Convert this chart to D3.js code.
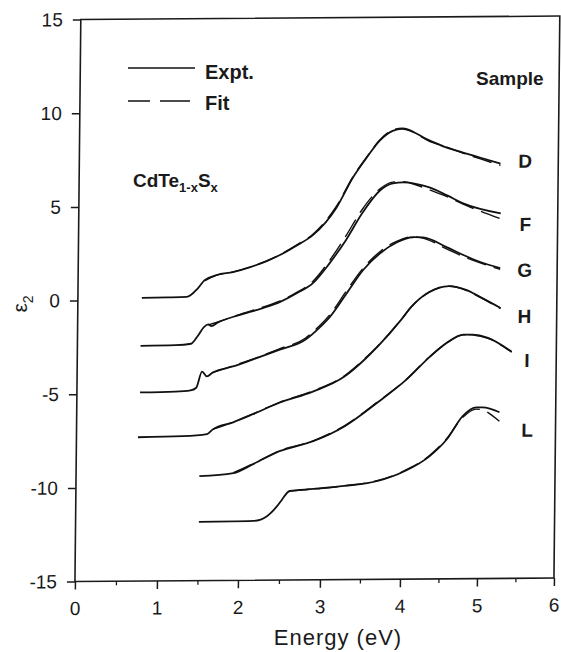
<!DOCTYPE html>
<html>
<head>
<meta charset="utf-8">
<script src="https://cdn.jsdelivr.net/npm/d3@7"></script>
<style>
  html, body { margin: 0; padding: 0; background: #fff; }
  svg { display: block; }
  text { font-family: "Liberation Sans", Arial, Helvetica, sans-serif; fill: #1a1a1a; }
</style>
</head>
<body>
<svg id="chart" width="561" height="652"></svg>
<script>
// ---- data (Energy in eV, epsilon_2 offset curves) ----
const samples = ["D", "F", "G", "H", "I", "L"];

const exptD = [[0.78,0.12],[1.10,0.13],[1.33,0.15],[1.47,0.62],[1.55,1.04],[1.70,1.31],[1.90,1.46],[2.11,1.72],[2.31,2.03],[2.47,2.35],[2.68,2.87],[2.87,3.40],[3.16,4.87],[3.36,6.46],[3.53,7.52],[3.69,8.42],[3.85,8.94],[3.97,9.04],[4.33,8.40],[4.55,8.02],[4.76,7.75],[4.98,7.48],[5.25,7.15]];
const fitD   = [[1.55,1.00],[1.70,1.30],[1.90,1.47],[2.11,1.72],[2.31,2.05],[2.47,2.37],[2.68,2.90],[2.87,3.45],[3.16,4.95],[3.36,6.50],[3.53,7.55],[3.69,8.45],[3.85,8.98],[3.97,9.08],[4.33,8.35],[4.55,8.05],[4.76,7.72],[4.98,7.42],[5.25,7.05]];

const exptF = [[0.77,-2.44],[1.20,-2.42],[1.39,-2.35],[1.47,-1.95],[1.55,-1.45],[1.60,-1.32],[1.64,-1.42],[1.72,-1.22],[1.99,-0.83],[2.25,-0.50],[2.48,-0.15],[2.68,0.30],[2.88,0.85],[3.08,1.90],[3.28,3.12],[3.48,4.55],[3.70,5.76],[3.86,6.13],[3.99,6.18],[4.15,6.10],[4.33,5.90],[4.56,5.47],[4.77,5.04],[5.26,4.49]];
const fitF   = [[1.60,-1.35],[1.72,-1.20],[1.99,-0.80],[2.25,-0.45],[2.48,-0.10],[2.68,0.35],[2.88,0.95],[3.08,2.05],[3.28,3.35],[3.48,4.75],[3.70,5.85],[3.86,6.20],[3.99,6.22],[4.15,6.05],[4.33,5.78],[4.56,5.40],[4.77,5.00],[5.26,4.20]];

const exptG = [[0.77,-4.93],[1.20,-4.90],[1.39,-4.84],[1.46,-4.70],[1.53,-3.84],[1.59,-4.10],[1.66,-3.90],[1.91,-3.58],[2.15,-3.22],[2.48,-2.70],[2.79,-2.18],[2.96,-1.55],[3.09,-0.97],[3.30,0.30],[3.50,1.52],[3.71,2.41],[3.92,2.99],[4.12,3.25],[4.25,3.24],[4.56,2.71],[4.78,2.28],[5.00,1.90],[5.26,1.57]];
const fitG   = [[1.66,-3.90],[1.91,-3.55],[2.15,-3.20],[2.48,-2.65],[2.79,-2.10],[2.96,-1.45],[3.09,-0.85],[3.30,0.45],[3.50,1.62],[3.71,2.50],[3.92,3.05],[4.12,3.28],[4.25,3.20],[4.56,2.62],[4.78,2.20],[5.00,1.85],[5.26,1.50]];

const exptH = [[0.75,-7.32],[1.30,-7.28],[1.60,-7.18],[1.67,-6.93],[1.92,-6.56],[2.16,-6.14],[2.49,-5.52],[2.89,-4.95],[3.28,-4.16],[3.53,-3.26],[3.69,-2.58],[3.98,-1.16],[4.11,-0.47],[4.34,0.32],[4.60,0.63],[4.82,0.42],[5.00,0.04],[5.27,-0.56]];
const fitH   = [[1.67,-6.93],[1.92,-6.55],[2.16,-6.12],[2.49,-5.50],[2.89,-4.92],[3.28,-4.12],[3.53,-3.22],[3.69,-2.55],[3.98,-1.15],[4.11,-0.47],[4.34,0.30],[4.60,0.62],[4.82,0.40],[5.00,0.02],[5.27,-0.60]];

const exptI = [[1.51,-9.42],[1.93,-9.27],[2.17,-8.80],[2.49,-8.12],[2.90,-7.60],[3.29,-6.81],[3.70,-5.55],[4.06,-4.34],[4.36,-3.13],[4.58,-2.39],[4.79,-1.97],[4.91,-1.98],[5.10,-2.14],[5.42,-2.90]];
const fitI   = [[1.93,-9.25],[2.17,-8.78],[2.49,-8.10],[2.90,-7.58],[3.29,-6.78],[3.70,-5.52],[4.06,-4.32],[4.36,-3.12],[4.58,-2.40],[4.79,-1.98],[4.91,-1.99],[5.10,-2.16],[5.42,-2.92]];

const exptL = [[1.51,-11.86],[2.18,-11.83],[2.35,-11.57],[2.47,-11.04],[2.52,-10.75],[2.62,-10.25],[2.91,-10.15],[3.29,-10.00],[3.71,-9.75],[4.05,-9.23],[4.37,-8.44],[4.59,-7.55],[4.79,-6.33],[4.97,-5.86],[5.05,-5.86],[5.27,-6.13]];
const fitL   = [[2.62,-10.25],[2.91,-10.15],[3.29,-10.00],[3.71,-9.72],[4.05,-9.20],[4.37,-8.40],[4.59,-7.50],[4.79,-6.40],[4.97,-5.95],[5.05,-6.00],[5.27,-6.61]];

const exptSeries = [exptD, exptF, exptG, exptH, exptI, exptL];
const fitSeries  = [fitD, fitF, fitG, fitH, fitI, fitL];
// label anchor (energy, eps2) for each sample name
const labelE = [5.57, 5.58, 5.58, 5.58, 5.62, 5.63];
const labelV = [7.28, 3.91, 1.46, -1.00, -3.35, -7.08];

const xTicks = [0, 1, 2, 3, 4, 5, 6];
const xMinorTicks = [0.5, 1.5, 2.5, 3.5, 4.5, 5.5];
const yTicks = [15, 10, 5, 0, -5, -10, -15];

// ---- layout ----
const W = 479, H = 562;
const svg = d3.select("#chart");
svg.append("rect").attr("width", 561).attr("height", 652).attr("fill", "#fff");

// the scanned figure is slightly skewed; reproduce with an affine frame
const g = svg.append("g").attr("transform", "matrix(1,-0.0073,-0.0104,1,80.8,19.55)");

// calibrated (scanned) energy axis
const x = d3.scaleLinear().domain(xTicks).range([0, 82, 163, 245, 325, 402, 479]);
const y = d3.scaleLinear().domain([15, -15]).range([0, H]);

const tickFont = "19px";
const plainNum = d => String(d);   // hyphen-minus as in the original

// left axis
const ay = g.append("g").call(d3.axisLeft(y).tickValues(yTicks).tickSize(8).tickSizeOuter(0).tickPadding(10).tickFormat(plainNum));
ay.select(".domain").remove();
ay.selectAll("line").attr("stroke", "#1a1a1a").attr("stroke-width", 1.5);
ay.selectAll("text").style("font-size", tickFont).style("font-family", "Liberation Sans, Arial, sans-serif").attr("fill", "#1a1a1a");

// bottom axis
const ax = g.append("g").attr("transform", `translate(0,${H})`)
  .call(d3.axisBottom(x).tickValues(xTicks).tickSize(8).tickSizeOuter(0).tickPadding(12).tickFormat(plainNum));
ax.select(".domain").remove();
ax.selectAll("line").attr("stroke", "#1a1a1a").attr("stroke-width", 1.5);
ax.selectAll("text").style("font-size", tickFont).style("font-family", "Liberation Sans, Arial, sans-serif").attr("fill", "#1a1a1a");

const axm = g.append("g").attr("transform", `translate(0,${H})`)
  .call(d3.axisBottom(x).tickValues(xMinorTicks).tickSize(4).tickSizeOuter(0).tickFormat(""));
axm.select(".domain").remove();
axm.selectAll("line").attr("stroke", "#1a1a1a").attr("stroke-width", 1.3);

// frame
g.append("rect").attr("x", 0).attr("y", 0).attr("width", W).attr("height", H)
  .attr("fill", "none").attr("stroke", "#1a1a1a").attr("stroke-width", 1.6);

// curves
const line = d3.line().x(d => x(d[0])).y(d => y(d[1])).curve(d3.curveMonotoneX);
g.selectAll("path.expt").data(exptSeries).join("path").attr("class", "expt")
  .attr("d", line).attr("fill", "none").attr("stroke", "#111").attr("stroke-width", 1.8)
  .attr("stroke-linejoin", "round");
g.selectAll("path.fit").data(fitSeries).join("path").attr("class", "fit")
  .attr("d", line).attr("fill", "none").attr("stroke", "#111").attr("stroke-width", 1.4)
  .attr("stroke-dasharray", "20,8");

// sample labels
g.selectAll("text.sample").data(samples).join("text").attr("class", "sample")
  .attr("x", (d, i) => x(labelE[i])).attr("y", (d, i) => y(labelV[i]))
  .attr("dy", "0.36em").attr("text-anchor", "middle")
  .style("font-size", "19px").style("font-weight", "bold").text(d => d);

// ---- annotations (screen coords) ----
// legend
svg.append("line").attr("x1", 128).attr("x2", 195).attr("y1", 68).attr("y2", 68)
  .attr("stroke", "#111").attr("stroke-width", 1.6);
svg.append("line").attr("x1", 128).attr("x2", 190).attr("y1", 101).attr("y2", 101)
  .attr("stroke", "#111").attr("stroke-width", 1.6).attr("stroke-dasharray", "22,10,30");
svg.append("text").attr("x", 205).attr("y", 79).style("font-size", "20px").style("font-weight", "bold").text("Expt.");
svg.append("text").attr("x", 205).attr("y", 110).style("font-size", "20px").style("font-weight", "bold").text("Fit");

// compound
const comp = svg.append("text").attr("x", 133).attr("y", 187).style("font-size", "19px").style("font-weight", "bold");
comp.append("tspan").text("CdTe");
comp.append("tspan").attr("dy", 5).style("font-size", "13px").text("1-x");
comp.append("tspan").attr("dy", -5).text("S");
comp.append("tspan").attr("dy", 5).style("font-size", "13px").text("x");

svg.append("text").attr("x", 476).attr("y", 85).style("font-size", "19px").style("font-weight", "bold").text("Sample");

// axis titles
svg.append("text").attr("x", 338).attr("y", 645).attr("text-anchor", "middle")
  .style("font-size", "22px").style("letter-spacing", "1px").text("Energy (eV)");
const yt = svg.append("text").attr("transform", "translate(27,304) rotate(-90)").attr("text-anchor", "middle")
  .style("font-size", "21px");
yt.append("tspan").text("ε");
yt.append("tspan").attr("dy", 6).style("font-size", "14px").text("2");
</script>
</body>
</html>
